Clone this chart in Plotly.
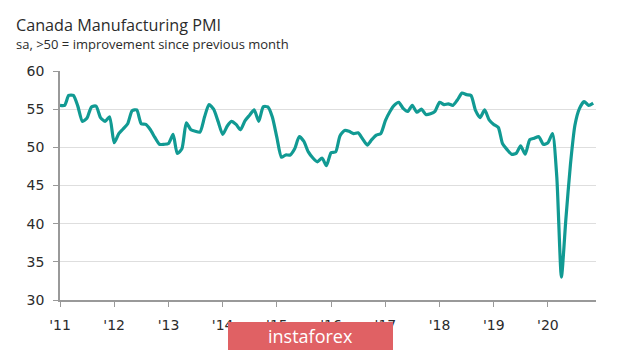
import pandas as pd
import plotly.graph_objects as go

# Monthly PMI, Jan 2011 .. Nov 2020
pmi = [
    55.5, 55.5, 56.8, 56.8, 55.4, 53.4, 53.8, 55.3, 55.4, 53.9, 53.4, 54.0,  # 2011
    50.6, 51.8, 52.4, 53.1, 54.8, 54.9, 53.1, 53.0, 52.3, 51.3, 50.4, 50.4,  # 2012
    50.5, 51.7, 49.2, 49.8, 53.2, 52.3, 52.1, 52.0, 54.0, 55.6, 55.0, 53.4,  # 2013
    51.7, 52.8, 53.4, 53.0, 52.3, 53.5, 54.2, 54.9, 53.4, 55.3, 55.3, 54.0,  # 2014
    51.3, 48.7, 49.0, 49.0, 49.8, 51.4, 50.8, 49.4, 48.6, 48.1, 48.6, 47.6,  # 2015
    49.3, 49.4, 51.5, 52.2, 52.1, 51.8, 51.9, 51.1, 50.3, 51.0, 51.6, 51.8,  # 2016
    53.5, 54.7, 55.5, 55.9, 55.1, 54.7, 55.5, 54.6, 55.0, 54.3, 54.4, 54.7,  # 2017
    55.9, 55.6, 55.7, 55.5, 56.2, 57.1, 56.9, 56.8, 54.8, 53.9, 54.9, 53.6,  # 2018
    53.0, 52.6, 50.5, 49.7, 49.1, 49.2, 50.2, 49.1, 51.0, 51.2, 51.4, 50.4,  # 2019
    50.6, 51.8, 46.1, 33.0, 40.6, 47.8, 52.9, 55.1, 56.0, 55.5, 55.8,        # 2020
]
months = pd.date_range("2011-01-01", periods=len(pmi), freq="MS")

year_ticks = pd.date_range("2011-01-01", "2020-01-01", freq="YS")
year_labels = ["'11", "'12", "'13", "'14", "'15", "'16", "'17", "'18", "'19", "'20"]
y_ticks = [30, 35, 40, 45, 50, 55, 60]

title = "Canada Manufacturing PMI"
subtitle = "sa, >50 = improvement since previous month"
watermark = "instaforex"

W, H = 620, 351
L, R, T, B = 60, 24, 71, 51
pw, ph = W - L - R, H - T - B


def px(x):
    return (x - L) / pw


def py(y):
    return (H - B - y) / ph


fig = go.Figure()
fig.add_trace(go.Scatter(
    x=months, y=pmi, mode="lines",
    line=dict(color="#119a93", width=3.2, shape="spline", smoothing=0.6),
    hoverinfo="x+y",
))

fig.update_layout(
    width=W, height=H,
    margin=dict(l=L, r=R, t=T, b=B),
    paper_bgcolor="white", plot_bgcolor="white",
    showlegend=False,
    font=dict(family="DejaVu Sans", color="#2b2b2b", size=12),
    xaxis=dict(
        range=[pd.Timestamp("2011-01-01"), pd.Timestamp("2020-11-20")],
        tickvals=year_ticks, ticktext=year_labels,
        showgrid=False, zeroline=False,
        showline=True, linecolor="#999999", linewidth=1.5,
        ticks="outside", ticklen=5, tickcolor="#999999",
        ticklabelstandoff=6,
        tickfont=dict(family="DejaVu Sans", size=14, color="#2b2b2b"),
    ),
    yaxis=dict(
        range=[30, 60], tickvals=y_ticks,
        showgrid=True, gridcolor="#dedede", gridwidth=1.3,
        zeroline=False,
        showline=True, linecolor="#999999", linewidth=1.5,
        ticks="outside", ticklen=5, tickcolor="#999999",
        ticklabelstandoff=6,
        tickfont=dict(family="DejaVu Sans", size=14, color="#2b2b2b"),
    ),
)

fig.add_annotation(text=title, x=px(14), y=py(25), xref="paper", yref="paper",
                   xanchor="left", yanchor="middle", showarrow=False,
                   font=dict(family="Open Sans", size=16.2, color="#2b2b2b"))
fig.add_annotation(text=subtitle, x=px(14), y=py(44), xref="paper", yref="paper",
                   xanchor="left", yanchor="middle", showarrow=False,
                   font=dict(family="Open Sans", size=13, color="#2b2b2b"))
fig.add_shape(type="rect", xref="paper", yref="paper",
              x0=px(228), x1=px(393), y0=py(350), y1=py(322),
              fillcolor="#e06164", line=dict(width=0), layer="above")
fig.add_annotation(text=watermark, x=px(310), y=py(336), xref="paper", yref="paper",
                   xanchor="center", yanchor="middle", showarrow=False,
                   font=dict(family="Open Sans", size=18, color="white"))

fig.write_html("out.html")
